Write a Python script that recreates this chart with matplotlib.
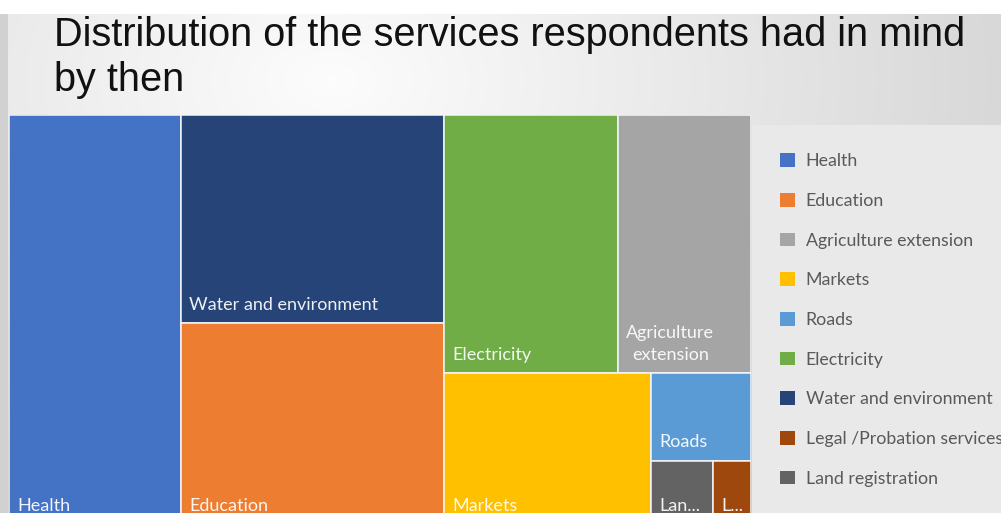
import matplotlib.pyplot as plt
import numpy as np
from matplotlib.patches import Patch, Rectangle

# share of respondents naming each service (legend order)
services = ["Health", "Education", "Agriculture extension", "Markets", "Roads",
            "Electricity", "Water and environment", "Legal /Probation services",
            "Land registration"]
shares = [23.2, 17.4, 11.3, 10.3, 2.9, 14.8, 18.0, 0.8, 1.3]
colors = ["#4472C4", "#ED7D31", "#A5A5A5", "#FFC000", "#5B9BD5",
          "#70AD47", "#264478", "#9E480E", "#636363"]

value = dict(zip(services, shares))
color = dict(zip(services, colors))

# nesting of the tiles: "h" = side by side, "v" = stacked top to bottom
layout = ("h", ["Health",
                ("v", ["Water and environment", "Education"]),
                ("v", [("h", ["Electricity", "Agriculture extension"]),
                       ("h", ["Markets",
                              ("v", ["Roads",
                                     ("h", ["Land registration",
                                            "Legal /Probation services"])])])])])


def total(node):
    if isinstance(node, str):
        return value[node]
    return sum(total(k) for k in node[1])


def place(node, x, y, w, h, out):
    if isinstance(node, str):
        out[node] = (x, y, w, h)
        return
    kind, kids = node
    s = total(node)
    if kind == "h":
        for k in kids:
            kw = w * total(k) / s
            place(k, x, y, kw, h, out)
            x += kw
    else:
        top = y + h
        for k in kids:
            kh = h * total(k) / s
            top -= kh
            place(k, x, top, w, kh, out)


W, H = 1001, 513
fig = plt.figure(figsize=(W / 100, H / 100), dpi=100)

# soft grey slide background
bg = fig.add_axes([0, 0, 1, 1], zorder=-5)
yy, xx = np.mgrid[0:H, 0:W]
d = np.hypot((xx - 330) / 850, (yy - 80) / 560)
shade = 0.99 - 0.18 * np.clip(d, 0, 1.2)
shade[:14] = 1.0
shade[14:, :8] = 0.82
bg.imshow(np.dstack([shade] * 3), aspect="auto", extent=(0, W, H, 0))
bg.set_xlim(0, W)
bg.set_ylim(H, 0)
bg.axis("off")

fig.text(54 / W, 1 - 16 / H,
         "Distribution of the services respondents had in mind\nby then",
         fontsize=28.6, family="Liberation Sans", color="#111111",
         va="top", ha="left", linespacing=1.22)

# treemap area in pixel units
ax = fig.add_axes([9 / W, -12 / H, 742 / W, 410 / H])
ax.set_xlim(0, 742)
ax.set_ylim(0, 410)
ax.axis("off")

tiles = {}
place(layout, 0, 0, 742, 410, tiles)

renderer = fig.canvas.get_renderer()
for name, (x, y, w, h) in tiles.items():
    ax.add_patch(Rectangle((x, y), w, h, facecolor=color[name],
                           edgecolor="#f4f6fa", linewidth=1.1))
    t = ax.annotate(name, (x, y), xytext=(6, 10), textcoords="offset points",
                    color="white", alpha=0.92, fontsize=13, family="Lato",
                    ha="left", va="baseline", multialignment="center",
                    linespacing=1.45)
    room = w - 18
    if t.get_window_extent(renderer).width > room:
        t.set_text(name.replace(" ", "\n", 1))
        if t.get_window_extent(renderer).width > room:
            n = len(name)
            while n > 1:
                n -= 1
                t.set_text(name[:n].rstrip() + "...")
                if t.get_window_extent(renderer).width <= room:
                    break

handles = [Patch(facecolor=color[s], edgecolor="none") for s in services]
leg = fig.legend(handles, services, loc="upper left",
                 bbox_to_anchor=(752 / W, 1 - 125 / H), borderaxespad=0,
                 frameon=True, fancybox=False, facecolor="#e9e9e9",
                 edgecolor="none", framealpha=1,
                 prop={"family": "Lato", "size": 12.8},
                 labelcolor="#595959", handlelength=0.8, handleheight=0.8,
                 handletextpad=0.62, labelspacing=1.33, borderpad=1.6)

fig.savefig("out.png", dpi=100)
